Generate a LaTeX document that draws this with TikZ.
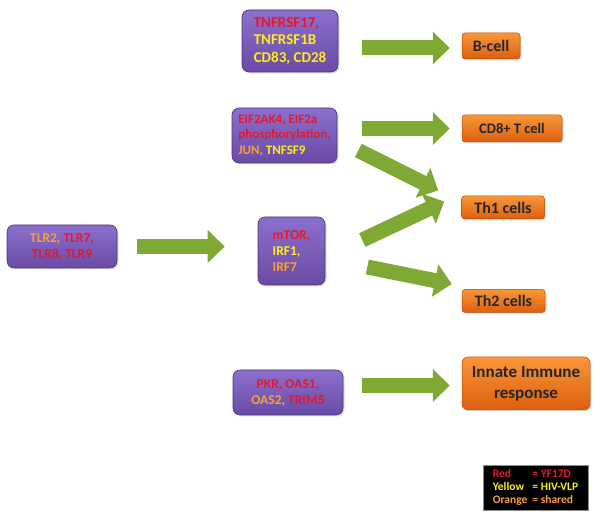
\documentclass[tikz,border=0pt]{standalone}
\usepackage{fontspec}
\setmainfont{Carlito}
\usetikzlibrary{arrows.meta,shadows}
\definecolor{gred}{RGB}{232,22,45}
\definecolor{gyel}{RGB}{255,238,20}
\definecolor{gorg}{RGB}{250,160,55}
\definecolor{boxtop}{RGB}{140,112,205}
\definecolor{boxbot}{RGB}{105,75,165}
\definecolor{celltop}{RGB}{248,150,55}
\definecolor{cellbot}{RGB}{222,95,15}
\definecolor{arrgreen}{RGB}{128,168,52}
\newcommand{\rd}[1]{\textcolor{gred}{#1}}
\newcommand{\yl}[1]{\textcolor{gyel}{#1}}
\newcommand{\og}[1]{\textcolor{gorg}{#1}}
\begin{document}
\begin{tikzpicture}[x=1pt,y=1pt,
  gene/.style={draw=boxbot!70!black,line width=0.6pt,rounded corners=7pt,
    top color=boxtop,bottom color=boxbot,inner sep=3pt,
    drop shadow={opacity=0.25,shadow xshift=1.5pt,shadow yshift=-1.5pt},
    font=\fontsize{13.5}{16}\selectfont\bfseries},
  cell/.style={draw=cellbot!80!black,line width=0.5pt,rounded corners=3pt,
    top color=celltop,bottom color=cellbot,text=black!85,align=center,
    inner sep=2pt,drop shadow={opacity=0.25,shadow xshift=1.5pt,shadow yshift=-1.5pt},
    font=\fontsize{16}{18}\selectfont\bfseries},
  garrow/.style={draw=arrgreen,line width=15pt,
    -{Triangle[length=17pt,width=32pt]}}]
\useasboundingbox (0,0) rectangle (600,524);
% gene boxes
\node[gene,align=left,minimum width=96pt,minimum height=62pt,
  font=\fontsize{15}{17.5}\selectfont\bfseries] (tnf) at (290,483)
  {\rd{TNFRSF17,}\\\yl{TNFRSF1B}\\\yl{CD83, CD28}};
\node[gene,align=left,minimum width=105pt,minimum height=55pt,
  font=\fontsize{13}{15.5}\selectfont\bfseries] (eif) at (284.5,388.5)
  {\rd{EIF2AK4, EIF2a}\\\rd{phosphorylation,}\\\og{JUN,} \yl{TNFSF9}};
\node[gene,align=center,minimum width=110pt,minimum height=43pt] (tlr) at (62,277.5)
  {\og{TLR2,} \rd{TLR7,}\\\rd{TLR8, TLR9}};
\node[gene,align=left,minimum width=67pt,minimum height=68pt] (mtor) at (291.5,273)
  {\rd{mTOR,}\\\yl{IRF1,}\\\og{IRF7}};
\node[gene,align=center,minimum width=110pt,minimum height=45pt] (pkr) at (288,131.5)
  {\rd{PKR, OAS1,}\\\og{OAS2,} \rd{TRIM5}};
% cell boxes
\node[cell,minimum width=58pt,minimum height=26pt] (bcell) at (491,478) {B-cell};
\node[cell,minimum width=100pt,minimum height=27pt,
  font=\fontsize{14.5}{16}\selectfont\bfseries] (cdt) at (512,395.5) {CD8+ T cell};
\node[cell,minimum width=83pt,minimum height=23pt] (thone) at (503,316.5) {Th1 cells};
\node[cell,minimum width=83pt,minimum height=23pt] (thtwo) at (503.5,223) {Th2 cells};
\node[cell,rounded corners=6pt,minimum width=128pt,minimum height=53pt,
  font=\fontsize{17}{21}\selectfont\bfseries] (innate) at (526,140.5)
  {Innate Immune\\response};
% legend
\node[fill=black,draw=black!45,line width=0.8pt,minimum width=105pt,minimum height=45pt,
  inner sep=2pt,font=\fontsize{11.5}{13}\selectfont\bfseries] (key) at (535.5,36.5)
  {\begin{tabular}{@{}l@{\hspace{5pt}}l@{}}
   \rd{Red} & \rd{= YF17D}\\ \yl{Yellow} & \yl{= HIV-VLP}\\ \og{Orange} & \og{= shared}
   \end{tabular}};
% arrows
\draw[garrow,shorten <=20pt,shorten >=33pt] (tlr.east) -- (tlr.east -| mtor.west);
\draw[garrow,shorten <=24pt,shorten >=12pt] ([yshift=-2pt]tnf.east |- bcell.west) -- ([yshift=-2pt]bcell.west);
\draw[garrow,shorten <=25pt,shorten >=12pt] (eif.east |- cdt.west) -- (cdt.west);
\draw[garrow,shorten <=19pt,shorten >=12pt] ([yshift=-2pt]pkr.east |- innate.west) -- ([yshift=-2pt]innate.west);
\draw[garrow] ([shift={(21,-15)}]eif.east) -- ([shift={(-23,17)}]thone.west);
\draw[garrow] ([shift={(37,11)}]mtor.east) -- ([shift={(-17,6)}]thone.west);
\draw[garrow] ([shift={(42,-16)}]mtor.east) -- ([shift={(-10,17)}]thtwo.west);
\end{tikzpicture}
\end{document}
